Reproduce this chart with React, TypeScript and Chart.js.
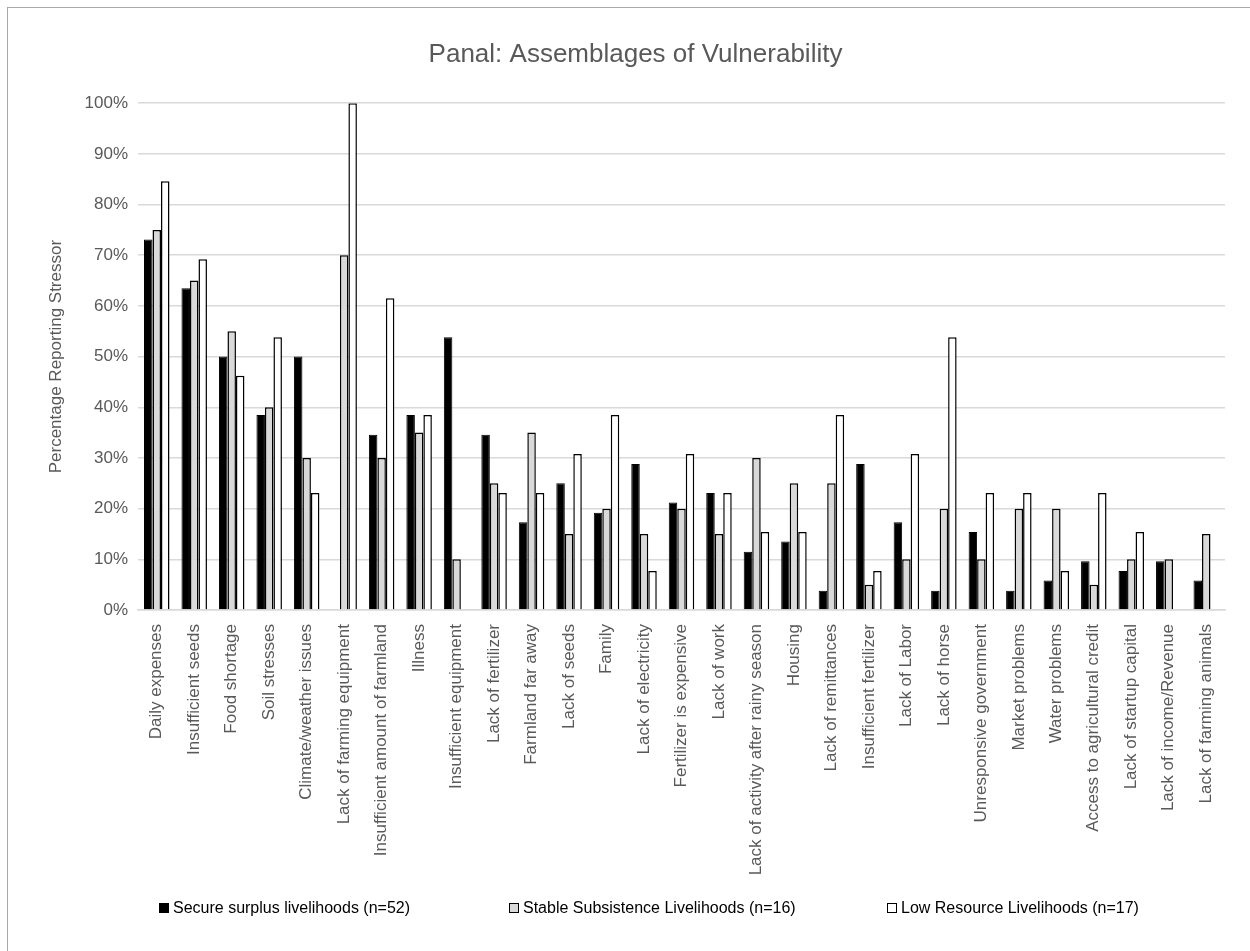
import React, { useEffect, useRef } from "react";
import { Chart, registerables } from "chart.js";

Chart.register(...registerables);

const categories = [
  "Daily expenses",
  "Insufficient seeds",
  "Food shortage",
  "Soil stresses",
  "Climate/weather issues",
  "Lack of farming equipment",
  "Insufficient amount of farmland",
  "Illness",
  "Insufficient equipment",
  "Lack of fertilizer",
  "Farmland far away",
  "Lack of seeds",
  "Family",
  "Lack of electricity",
  "Fertilizer is expensive",
  "Lack of work",
  "Lack of activity after rainy season",
  "Housing",
  "Lack of remittances",
  "Insufficient fertilizer",
  "Lack of Labor",
  "Lack of horse",
  "Unresponsive government",
  "Market problems",
  "Water problems",
  "Access to agricultural credit",
  "Lack of startup capital",
  "Lack of income/Revenue",
  "Lack of farming animals",
];

const secureSurplus = [
  73.1, 63.5, 50, 38.5, 50, 0, 34.6, 38.5, 53.8, 34.6, 17.3, 25, 19.2, 28.8, 21.2,
  23.1, 11.5, 13.5, 3.8, 28.8, 17.3, 3.8, 15.4, 3.8, 5.8, 9.6, 7.7, 9.6, 5.8,
];

const stableSubsistence = [
  75, 65, 55, 40, 30, 70, 30, 35, 10, 25, 35, 15, 20, 15, 20,
  15, 30, 25, 25, 5, 10, 20, 10, 20, 20, 5, 10, 10, 15,
];

const lowResource = [
  84.6, 69.2, 46.2, 53.8, 23.1, 100, 61.5, 38.5, 0, 23.1, 23.1, 30.8, 38.5, 7.7, 30.8,
  23.1, 15.4, 15.4, 38.5, 7.7, 30.8, 53.8, 23.1, 23.1, 7.7, 23.1, 15.4, 0, 0,
];

const seriesLabels = [
  "Secure surplus livelihoods (n=52)",
  "Stable Subsistence Livelihoods (n=16)",
  "Low Resource Livelihoods (n=17)",
];

const chartTitle = "Panal: Assemblages of Vulnerability";
const yAxisTitle = "Percentage Reporting Stressor";

const FONT = "'Liberation Sans Narrow', 'Liberation Sans', Arial, sans-serif";

const spacedLegend = {
  id: "spacedLegend",
  afterDraw(chart: any, _args: any, opts: any) {
    const ctx = chart.ctx;
    ctx.save();
    ctx.font = `${opts.size}px ${FONT}`;
    ctx.textBaseline = "middle";
    ctx.textAlign = "left";
    chart.data.datasets.forEach((ds: any, i: number) => {
      const x = opts.starts[i];
      const y = opts.y;
      ctx.fillStyle = ds.backgroundColor;
      ctx.fillRect(x, y - 5, 10, 10);
      ctx.strokeStyle = "#000";
      ctx.lineWidth = 1;
      ctx.strokeRect(x + 0.5, y - 4.5, 9, 9);
      ctx.fillStyle = opts.color;
      ctx.fillText(ds.label, x + 14, y + 1);
    });
    ctx.restore();
  },
};

export default function App() {
  const ref = useRef<HTMLCanvasElement | null>(null);

  useEffect(() => {
    if (!ref.current) return;
    const chart = new Chart(ref.current, {
      type: "bar",
      data: {
        labels: categories,
        datasets: [
          {
            label: seriesLabels[0],
            data: secureSurplus,
            backgroundColor: "#000000",
            borderColor: "#000000",
            borderWidth: 1,
          },
          {
            label: seriesLabels[1],
            data: stableSubsistence,
            backgroundColor: "#d9d9d9",
            borderColor: "#000000",
            borderWidth: 1.5,
          },
          {
            label: seriesLabels[2],
            data: lowResource,
            backgroundColor: "#ffffff",
            borderColor: "#000000",
            borderWidth: 1.5,
          },
        ],
      },
      options: {
        responsive: false,
        animation: false,
        devicePixelRatio: 1,
        layout: { padding: { left: 38, right: 25, top: 0, bottom: 71 } },
        datasets: {
          bar: { categoryPercentage: 0.68, barPercentage: 1 },
        },
        plugins: {
          legend: { display: false },
          tooltip: { enabled: false },
          title: {
            display: true,
            text: chartTitle,
            color: "#595959",
            font: { family: FONT, size: 26, weight: "normal" },
            padding: { top: 31, bottom: 33 },
          },
          spacedLegend: { starts: [151, 501, 879], y: 900, size: 16, color: "#000000" },
        } as any,
        scales: {
          x: {
            grid: { display: false, drawTicks: false },
            border: { display: true, color: "#d9d9d9", width: 1.5 },
            ticks: {
              autoSkip: false,
              maxRotation: 90,
              minRotation: 90,
              padding: 14,
              color: "#595959",
              font: { family: FONT, size: 17 },
            },
            afterFit: (s: any) => {
              s.height = 270;
            },
          },
          y: {
            min: 0,
            max: 100,
            grid: { color: "#d9d9d9", lineWidth: 1.5, drawTicks: false },
            border: { display: false },
            ticks: {
              stepSize: 10,
              padding: 10,
              color: "#595959",
              font: { family: FONT, size: 17 },
              callback: (v: any) => `${v}%`,
            },
            title: {
              display: true,
              text: yAxisTitle,
              color: "#595959",
              font: { family: FONT, size: 17 },
              padding: 0,
            },
            afterFit: (s: any) => {
              s.width = 92;
            },
          },
        },
      },
      plugins: [spacedLegend],
    });
    return () => chart.destroy();
  }, []);

  return (
    <div
      style={{
        position: "fixed",
        left: 0,
        top: 0,
        width: 1250,
        height: 951,
        overflow: "hidden",
        background: "#ffffff",
      }}
    >
      <div
        style={{
          position: "absolute",
          left: 7,
          top: 7,
          width: 1300,
          height: 1000,
          border: "1px solid #a9a9a9",
          background: "#ffffff",
        }}
      >
        <canvas
          ref={ref}
          width={1242}
          height={943}
          style={{ position: "absolute", left: 0, top: 0, display: "block" }}
        />
      </div>
    </div>
  );
}
